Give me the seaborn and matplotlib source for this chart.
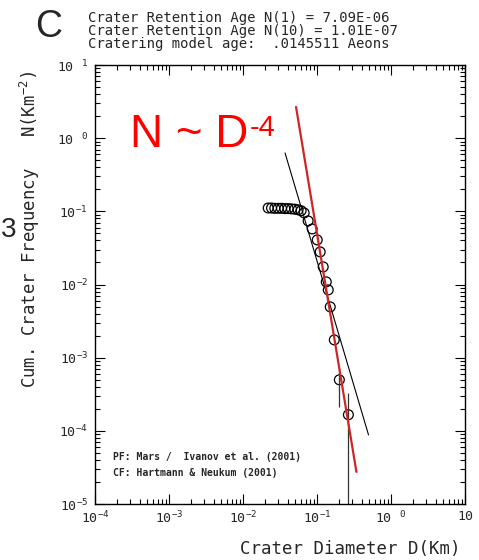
import matplotlib

matplotlib.use("Agg")
import matplotlib.pyplot as plt
import numpy as np
import pandas as pd
import seaborn as sns
from matplotlib.ticker import FixedFormatter, FixedLocator, LogLocator, NullFormatter

# measured crater counts (cumulative), D in km, N in km^-2
diam_km = [0.0219, 0.0243, 0.0269, 0.0299, 0.0331, 0.0367, 0.0407, 0.0452,
           0.0501, 0.0556, 0.0610, 0.0670, 0.0759, 0.0861, 0.1007, 0.1105,
           0.1213, 0.1334, 0.1419, 0.1510, 0.1714, 0.2004, 0.2655]
cum_freq = [0.111, 0.111, 0.110, 0.110, 0.110, 0.109, 0.109, 0.108,
            0.107, 0.105, 0.102, 0.0951, 0.0740, 0.0575, 0.0407, 0.0279,
            0.0174, 0.01086, 0.00844, 0.00494, 0.00175, 0.000498, 0.000166]

# error bars on the two largest bins
err_d = [0.2004, 0.2655]
err_lo = [0.000213, 1e-5]
err_hi = [0.000748, 0.000331]

# Hartmann & Neukum isochron (black) and the N ~ D^-4 guide (red)
iso_d = [0.0370, 0.497]
iso_n = [0.628, 8.8e-5]
guide_d = [0.0521, 0.341]
guide_n = [2.67, 2.75e-5]

x_ticks = [1e-4, 1e-3, 1e-2, 1e-1, 1e0, 1e1]
x_labels = ["10$^{-4}$", "10$^{-3}$", "10$^{-2}$", "10$^{-1}$", "10 $^{0}$", "10"]
y_ticks = [1e-5, 1e-4, 1e-3, 1e-2, 1e-1, 1e0, 1e1]
y_labels = ["10$^{-5}$", "10$^{-4}$", "10$^{-3}$", "10$^{-2}$", "10$^{-1}$",
            "10 $^{0}$", "10 $^{1}$"]

header = [
    "Crater Retention Age N(1) = 7.09E-06",
    "Crater Retention Age N(10) = 1.01E-07",
    "Cratering model age:  .0145511 Aeons",
]

sns.set_style("ticks")
plt.rcParams["font.family"] = ["DejaVu Sans Mono", "DejaVu Sans"]
plt.rcParams["mathtext.fontset"] = "custom"
plt.rcParams["mathtext.rm"] = "DejaVu Sans Mono"
plt.rcParams["mathtext.it"] = "DejaVu Sans Mono"
plt.rcParams["mathtext.default"] = "regular"

fig = plt.figure(figsize=(4.79, 5.6), dpi=100)
ax = fig.add_axes([95 / 479, 1 - 504 / 560, 370 / 479, 439 / 560])

pts = pd.DataFrame({"D": diam_km, "N": cum_freq})
sns.lineplot(x=iso_d, y=iso_n, color="black", lw=0.8, ax=ax,
             estimator=None, sort=False)
ax.vlines(err_d, err_lo, err_hi, color="#333333", lw=0.9)
sns.scatterplot(data=pts, x="D", y="N", marker="o", s=50,
                facecolors="none", edgecolor="black", linewidth=0.9, ax=ax)
sns.lineplot(x=guide_d, y=guide_n, color="#cc2626", lw=1.6, ax=ax,
             estimator=None, sort=False)

ax.set_xscale("log")
ax.set_yscale("log")
ax.set_xlim(1e-4, 10)
ax.set_ylim(1e-5, 10)
ax.xaxis.set_major_locator(FixedLocator(x_ticks))
ax.xaxis.set_major_formatter(FixedFormatter(x_labels))
ax.yaxis.set_major_locator(FixedLocator(y_ticks))
ax.yaxis.set_major_formatter(FixedFormatter(y_labels))
for axis in (ax.xaxis, ax.yaxis):
    axis.set_minor_locator(LogLocator(base=10, subs=np.arange(2, 10), numticks=20))
    axis.set_minor_formatter(NullFormatter())
ax.tick_params(which="both", direction="in", top=True, right=True,
               color="black", width=0.8, labelsize=9.5)
ax.tick_params(which="major", length=7)
ax.tick_params(which="minor", length=3.5)
ax.tick_params(axis="x", pad=4)
ax.tick_params(axis="y", pad=5)
for sp in ax.spines.values():
    sp.set_linewidth(1.0)
    sp.set_color("black")
ax.set_xlabel("")
ax.set_ylabel("")

fig.text(113 / 479, 1 - 460 / 560, "PF: Mars /  Ivanov et al. (2001)",
         fontsize=7, fontweight="bold", va="baseline")
fig.text(113 / 479, 1 - 476 / 560, "CF: Hartmann & Neukum (2001)",
         fontsize=7, fontweight="bold", va="baseline")

# header block as one text so the tight line spacing stays clean
fig.text(88 / 479, 1 - 11 / 560, "\n".join(header), fontsize=10,
         va="top", linespacing=0.9)

fig.text(350 / 479, 1 - 554 / 560, "Crater Diameter D(Km)", fontsize=12.5,
         ha="center", va="baseline")
fig.text(30 / 479, 1 - 229 / 560, "Cum. Crater Frequency   N(Km$^{-2}$)",
         fontsize=12.5, rotation=90, ha="center", va="center")

fig.text(35 / 479, 1 - 37 / 560, "C", fontsize=27, family="Liberation Sans",
         va="baseline")
fig.text(0.5 / 479, 1 - 237 / 560, "3", fontsize=20, family="Liberation Sans",
         ha="left", va="baseline")
law = fig.text(130 / 479, 1 - 147 / 560, "N ~ D", fontsize=33,
               family="Liberation Sans", color="#ff0000", va="baseline")
ax.annotate("-4", xy=(1.0, 1.0), xycoords=law, xytext=(1, -1),
            textcoords="offset points", fontsize=21, family="Liberation Sans",
            color="#ff0000", ha="left", va="top", annotation_clip=False)

fig.savefig("out.png", dpi=100)
